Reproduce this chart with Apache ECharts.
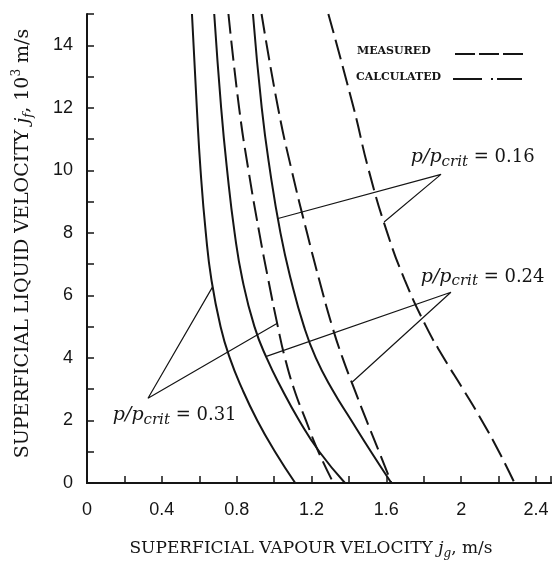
<!DOCTYPE html>
<html>
<head>
<meta charset="utf-8">
<script src="https://cdn.jsdelivr.net/npm/echarts@6/dist/echarts.min.js"></script>
<style>
  html, body { margin: 0; padding: 0; background: #fff; }
  #chart { width: 554px; height: 565px; }
</style>
</head>
<body>
<div id="chart"></div>
<script>
// Flooding curves: [jg (m/s), jf (10^3 m/s)] pairs
const calc031 = [[0.561,15],[0.587,12],[0.607,10],[0.635,8],[0.665,6.5],[0.714,5],[0.763,4],[0.830,3],[0.910,2],[1.005,1],[1.113,0]];
const calc024 = [[0.680,15],[0.717,12],[0.749,10],[0.789,8],[0.831,6.5],[0.895,5],[0.960,4],[1.042,3],[1.134,2],[1.242,1],[1.379,0]];
const calc016 = [[0.887,15],[0.934,12],[0.978,10],[1.034,8],[1.090,6.5],[1.160,5],[1.223,4],[1.310,3],[1.413,2],[1.518,1],[1.627,0]];
const meas031 = [[0.756,15],[0.813,12],[0.863,10],[0.921,8],[0.969,6.5],[1.020,5],[1.058,4],[1.107,3],[1.170,2],[1.237,1],[1.317,0]];
const meas024 = [[0.933,15],[1.021,12],[1.094,10],[1.176,8],[1.241,6.5],[1.311,5],[1.366,4],[1.429,3],[1.494,2],[1.561,1],[1.627,0]];
const meas016 = [[1.290,15],[1.425,12],[1.506,10],[1.605,8],[1.698,6.5],[1.813,5],[1.907,4],[2.010,3],[2.110,2],[2.202,1],[2.285,0]];

// Pressure-ratio labels and the curve points their leader lines reach
const ratioLabels = ['0.16', '0.24', '0.31'];
const leader016 = [[1.021,8.46],[1.892,9.87],[1.588,8.35]];
const leader024 = [[0.955,4.04],[1.945,6.10],[1.418,3.23]];
const leader031 = [[0.672,6.28],[0.326,2.71],[1.015,5.10]];
const labelAnchors = [[1.731,10.41],[1.784,6.59],[0.138,2.17]];

// Axis ranges
const xMax = 2.48, xStep = 0.2;
const yMax = 15, yStep = 1;

const INK = '#151515';
const SERIF = '"DejaVu Serif", "Liberation Serif", serif';
const SANS = '"Liberation Sans", Arial, sans-serif';

const chart = echarts.init(document.getElementById('chart'), null, { renderer: 'canvas' });

function curve(data, dashed) {
  return {
    type: 'line', data: data, showSymbol: false, smooth: 0.5, silent: true,
    lineStyle: { color: INK, width: 2, type: dashed ? [20, 7] : 'solid' },
    z: 3
  };
}
function leader(data) {
  return {
    type: 'line', data: data, showSymbol: false, smooth: false, silent: true,
    lineStyle: { color: INK, width: 1.2 }, z: 2
  };
}

chart.setOption({
  animation: false,
  backgroundColor: '#fff',
  grid: { left: 87, right: 0, top: 14, bottom: 80, containLabel: false },
  xAxis: [{
    type: 'value', min: 0, max: xMax, interval: xStep,
    name: '{t|SUPERFICIAL VAPOUR VELOCITY }{i|j}{s|g}{t|, m/s}',
    nameLocation: 'middle', nameGap: 55,
    nameTextStyle: {
      padding: [0, 16, 0, 0],
      rich: {
        t: { fontFamily: SERIF, fontSize: 17, color: INK, lineHeight: 22 },
        i: { fontFamily: SERIF, fontStyle: 'italic', fontSize: 17, color: INK, lineHeight: 22 },
        s: { fontFamily: SERIF, fontStyle: 'italic', fontSize: 12, color: INK, lineHeight: 12, verticalAlign: 'bottom' }
      }
    },
    axisLine: { show: true, onZero: false, lineStyle: { color: INK, width: 2 } },
    axisTick: { show: true, inside: true, length: 7, lineStyle: { color: INK, width: 1.5 } },
    splitLine: { show: false },
    axisLabel: {
      margin: 18, color: INK, fontFamily: SANS, fontSize: 18,
      formatter: function (v) {
        const k = Math.round(v * 10);
        if (Math.abs(v * 10 - k) > 1e-6) return '';
        return k % 4 === 0 ? String(k / 10) : '';
      }
    }
  }, {
    type: 'value', position: 'top', min: 0, max: xMax,
    axisLine: { show: true, lineStyle: { color: INK, width: 2 } },
    axisTick: { show: false }, axisLabel: { show: false }, splitLine: { show: false }
  }],
  yAxis: {
    type: 'value', min: 0, max: yMax, interval: yStep,
    name: '{t|SUPERFICIAL LIQUID VELOCITY }{i|j}{s|f}{t|, 10}{p|3}{t| m/s}',
    nameLocation: 'middle', nameRotate: 90, nameGap: 52,
    nameTextStyle: {
      padding: [0, 0, 0, 10],
      rich: {
        t: { fontFamily: SERIF, fontSize: 19, color: INK, lineHeight: 24 },
        i: { fontFamily: SERIF, fontStyle: 'italic', fontSize: 19, color: INK, lineHeight: 24 },
        s: { fontFamily: SERIF, fontStyle: 'italic', fontSize: 13, color: INK, lineHeight: 13, verticalAlign: 'bottom' },
        p: { fontFamily: SERIF, fontSize: 12, color: INK, lineHeight: 12, verticalAlign: 'top' }
      }
    },
    axisLine: { show: true, onZero: false, lineStyle: { color: INK, width: 2 } },
    axisTick: { show: true, inside: true, length: 7, lineStyle: { color: INK, width: 1.5 } },
    splitLine: { show: false },
    axisLabel: {
      margin: 14, color: INK, fontFamily: SANS, fontSize: 18,
      formatter: function (v) { return Math.round(v) % 2 === 0 ? String(Math.round(v)) : ''; }
    }
  },
  series: [
    curve(calc031, false), curve(calc024, false), curve(calc016, false),
    curve(meas031, true), curve(meas024, true), curve(meas016, true),
    leader(leader016), leader(leader024), leader(leader031)
  ]
});

// Legend block (top right) and the p/p_crit annotations
const legend = [
  { type: 'text', left: 357, top: 46, style: { text: 'MEASURED', font: 'bold 11px ' + SERIF, fill: INK } },
  { type: 'text', left: 356, top: 72, style: { text: 'CALCULATED', font: 'bold 11px ' + SERIF, fill: INK } },
  { type: 'line', shape: { x1: 455, y1: 54, x2: 523, y2: 54 }, style: { stroke: INK, lineWidth: 2, lineDash: [20, 4] } },
  { type: 'line', shape: { x1: 453, y1: 79, x2: 522, y2: 79 }, style: { stroke: INK, lineWidth: 2, lineDash: [29, 9, 2, 4, 30] } }
];

const notes = ratioLabels.map(function (r, i) {
  const pt = chart.convertToPixel({ gridIndex: 0 }, labelAnchors[i]);
  return {
    type: 'text', x: pt[0], y: pt[1],
    style: {
      text: '{p|p/p}{s|crit}{n| = ' + r + '}',
      verticalAlign: 'middle', align: 'left',
      rich: {
        p: { fontFamily: SERIF, fontStyle: 'italic', fontSize: 19, fill: INK, lineHeight: 24 },
        s: { fontFamily: SERIF, fontStyle: 'italic', fontSize: 15, fill: INK, lineHeight: 15, verticalAlign: 'bottom' },
        n: { fontFamily: SERIF, fontSize: 18, fill: INK, lineHeight: 24 }
      }
    }
  };
});

chart.setOption({ graphic: legend.concat(notes) });
</script>
</body>
</html>
